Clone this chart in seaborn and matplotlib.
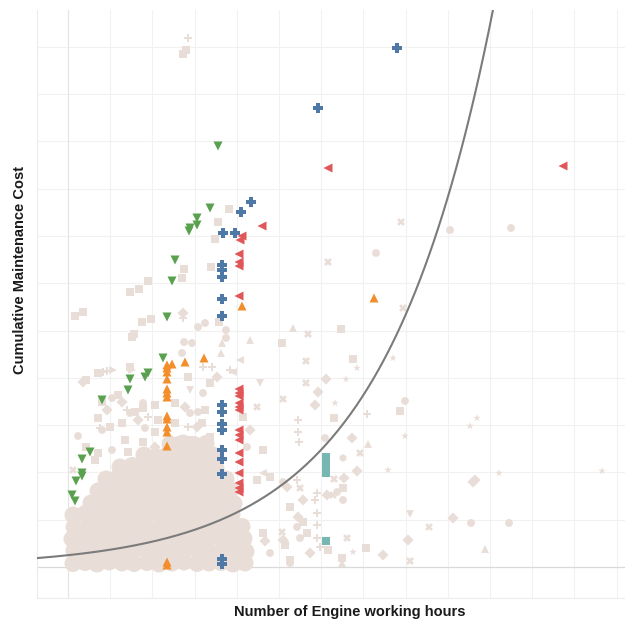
import numpy as np
import pandas as pd
import matplotlib
matplotlib.use("Agg")
import matplotlib.pyplot as plt
from matplotlib.ticker import MultipleLocator
import seaborn as sns

# ---------------------------------------------------------------------------
# Engines: working hours vs cumulative maintenance cost
# ---------------------------------------------------------------------------

# Highlighted engines (hours, cost)
blue_hours = [3290, 2500, 1830, 1730, 1670, 1550,
              1540, 1540, 1540, 1540, 1540, 1540, 1540, 1540, 1540,
              1540, 1540, 1540, 1540, 1540]
blue_cost = [51900, 45900, 36500, 35500, 33400, 33400,
             30200, 29700, 29000, 26800, 25100, 16200, 15500, 14300, 13700,
             11700, 10800, 9300, 800, 300]

red_hours = [4950, 2600, 1940, 1740, 1720,
             1710, 1710, 1710, 1710, 1710, 1710, 1710, 1710, 1710, 1710,
             1710, 1710, 1710, 1710, 1710, 1710, 1710, 1710, 1710]
red_cost = [40100, 39900, 34100, 33100, 32700,
            31300, 30500, 30100, 27100, 17800, 17400, 17100, 16400, 16000, 15700,
            13700, 13200, 12700, 11400, 10500, 9400, 8400, 7900, 7500]

orange_hours = [3060, 1740, 1360, 1170, 1040,
                990, 990, 990, 990, 990, 990, 990, 990, 990, 990,
                990, 990, 990, 990]
orange_cost = [26900, 26100, 20900, 20500, 20300,
               20200, 19900, 19500, 18800, 17800, 17400, 17000, 15100, 14800, 14000,
               13500, 12100, 500, 200]

green_hours = [1500, 1420, 1290, 1290, 1220, 1210, 1070, 1040, 990, 950,
               800, 770, 620, 600, 340, 220, 140, 140, 140, 80, 40, 70]
green_cost = [42100, 35900, 34900, 34200, 33900, 33600, 30700, 28600, 25000, 20900,
              19400, 19000, 18800, 17700, 16700, 11500, 10800, 9400, 9100, 8600, 7200, 6600]

teal_hours = [2580, 2580, 2580, 2580, 2580, 2580]
teal_cost = [11000, 10600, 10200, 9800, 9400, 2600]

# Remaining engines, grouped by mark shape (hours, cost)
other_square = [(1180, 51700), (1150, 51300), (1610, 35800), (1500, 34500), (1470, 32800),
                (1430, 30000), (1160, 29800), (1140, 28900), (800, 28600), (710, 27800),
                (620, 27500), (150, 25500), (70, 25100), (830, 24800), (740, 24500),
                (660, 23300), (640, 23000), (1510, 24500), (2140, 22400), (2730, 23800),
                (2850, 20800), (2660, 14900), (3320, 15600), (2750, 7900), (2980, 1900),
                (2740, 900), (620, 20000), (300, 14900), (420, 14000), (750, 15900),
                (750, 12500), (270, 10700), (1420, 18400), (1370, 15700), (1420, 13000),
                (1750, 15000), (1950, 11700), (2020, 9000), (2220, 6000), (2390, 3400),
                (1950, 3400), (2220, 700), (1890, 8700), (2350, 4500), (2170, 2200),
                (2600, 1700), (180, 18700), (300, 19400), (340, 16500), (500, 17200),
                (670, 15500), (870, 16200), (540, 14400), (900, 14700), (870, 13500),
                (570, 12700), (1200, 19000), (1070, 16400), (1070, 14400), (1340, 14400),
                (1240, 12700), (1140, 11700), (300, 11400), (600, 11500), (180, 12000)]
other_circle = [(3820, 33700), (4430, 33900), (3080, 31400), (1300, 24000), (1370, 24400),
                (1580, 23700), (1580, 22900), (1160, 22500), (650, 23200), (3370, 16600),
                (2750, 6700), (4030, 4400), (4410, 4400), (2570, 12900), (620, 15400),
                (1350, 17400), (1220, 15400), (1790, 12000), (2290, 4000), (2020, 1400),
                (2150, 8500), (2690, 7500), (2320, 2900), (2220, 400), (440, 16900),
                (750, 16400), (340, 13700), (770, 13900), (1140, 21400), (1240, 22400),
                (1300, 15500), (1100, 12700), (440, 11700), (100, 13100)]
other_diamond = [(1150, 25400), (2840, 12900), (2890, 9600), (2760, 8900), (4070, 8700),
                 (4050, 8500), (3850, 4900), (3400, 2700), (3150, 1200), (2580, 18800),
                 (2500, 17500), (2470, 16200), (150, 18500), (390, 15700), (1490, 19000),
                 (1290, 14000), (1820, 13700), (2190, 8000), (2350, 6700), (2150, 2700),
                 (2420, 1400), (2590, 7200), (2300, 5000), (1970, 2600), (540, 16500),
                 (700, 14700), (1170, 16000), (1340, 12000), (870, 12000)]
other_plus = [(1200, 52900), (1150, 24900), (2990, 15300), (2300, 14700), (2300, 13500),
              (2310, 12500), (350, 19500), (320, 13900), (1620, 19700), (1350, 20000),
              (1440, 20000), (2290, 8700), (2490, 7400), (2520, 2000), (2470, 6700),
              (2490, 5400), (2490, 4200), (2490, 2900), (390, 19600), (590, 15700),
              (800, 15000), (1200, 14000)]
other_cross = [(2600, 30500), (3330, 34500), (2400, 23300), (3350, 25900), (2920, 11400),
               (2660, 8800), (2650, 7200), (3610, 4000), (3420, 600), (2380, 20600),
               (2380, 18400), (2150, 16800), (50, 9700), (1890, 16000), (2320, 7900),
               (2140, 3500), (2790, 2900)]
other_up = [(1540, 22400), (1820, 22700), (2250, 23900), (3000, 12300), (4170, 1800),
            (2740, 400), (1530, 21400)]
other_down = [(3420, 5300), (1920, 18400), (1220, 17700)]
other_left = [(1720, 20700), (1650, 19500), (1950, 9400)]
other_right = [(450, 19700), (640, 19700)]
other_star = [(2890, 19900), (3250, 20900), (2780, 18800), (2670, 16400), (3370, 13100),
              (4020, 14100), (4090, 14900), (3200, 9700), (4310, 9400), (5340, 9600),
              (2850, 1500)]
other_hex = [(2750, 10900)]

# The crowded bulk of low-hour, low-cost engines
bulk = [
    (50, 350), (170, 450), (290, 300), (410, 500), (540, 400), (660, 350), (790, 450),
    (910, 300), (1040, 400), (1160, 500), (1290, 350), (1410, 400), (1530, 450),
    (1650, 300), (1770, 400),
    (60, 1650), (180, 1500), (300, 1700), (420, 1550), (550, 1600), (670, 1750),
    (800, 1500), (920, 1650), (1050, 1550), (1170, 1700), (1300, 1600), (1420, 1500),
    (1540, 1650), (1660, 1700), (1780, 1550),
    (40, 2800), (160, 2950), (280, 2700), (400, 2850), (530, 2750), (650, 2900),
    (780, 2800), (900, 2700), (1030, 2900), (1150, 2850), (1280, 2750), (1400, 2800),
    (1520, 2950), (1640, 2700), (1760, 2850),
    (60, 4000), (180, 3900), (300, 4100), (430, 4050), (550, 3950), (670, 4100),
    (800, 4000), (920, 3900), (1040, 4050), (1170, 4100), (1290, 3950), (1410, 4000),
    (1530, 4100), (1650, 3900), (1740, 4050),
    (50, 5200), (170, 5350), (290, 5100), (410, 5250), (540, 5300), (660, 5150),
    (780, 5200), (910, 5350), (1030, 5100), (1150, 5250), (1280, 5200), (1400, 5300),
    (1520, 5150), (1640, 5250),
    (230, 6400), (320, 6550), (440, 6300), (560, 6450), (690, 6500), (810, 6350),
    (930, 6400), (1060, 6550), (1180, 6300), (1300, 6450), (1420, 6400), (1540, 6500),
    (1660, 6350),
    (300, 7600), (410, 7750), (530, 7500), (650, 7650), (770, 7700), (900, 7550),
    (1020, 7600), (1140, 7750), (1260, 7500), (1380, 7650), (1500, 7600), (1620, 7700),
    (380, 8800), (500, 8950), (620, 8700), (740, 8850), (860, 8900), (980, 8750),
    (1100, 8800), (1220, 8950), (1340, 8700), (1460, 8850), (1580, 8800),
    (520, 10000), (640, 10150), (760, 9900), (880, 10050), (1000, 10100), (1120, 9950),
    (1240, 10000), (1360, 10150), (1480, 9900),
    (760, 11200), (880, 11050), (1000, 11300), (1120, 11150), (1240, 11250),
    (1360, 11100), (1450, 11200),
    (1020, 12300), (1150, 12400), (1270, 12200), (1380, 12350),
]

# Exponential trend: cost = a * exp(b * hours)
trend_a = 1180.0
trend_b = 0.000907

# ---------------------------------------------------------------------------
highlight = pd.concat([
    pd.DataFrame({"hours": blue_hours, "cost": blue_cost, "group": "A"}),
    pd.DataFrame({"hours": red_hours, "cost": red_cost, "group": "B"}),
    pd.DataFrame({"hours": orange_hours, "cost": orange_cost, "group": "C"}),
    pd.DataFrame({"hours": green_hours, "cost": green_cost, "group": "D"}),
    pd.DataFrame({"hours": teal_hours, "cost": teal_cost, "group": "E"}),
], ignore_index=True)
palette = {"A": "#4e79a7", "B": "#e15759", "C": "#f28e2b", "D": "#59a14f", "E": "#76b7b2"}
hl_markers = {"A": "P", "B": "<", "C": "^", "D": "v", "E": "s"}
hl_sizes = {"A": 62, "B": 42, "C": 42, "D": 42, "E": 40}

shape_groups = {"s": other_square, "o": other_circle, "D": other_diamond, "P": other_plus,
                "X": other_cross, "^": other_up, "v": other_down, "<": other_left,
                ">": other_right, "*": other_star, "h": other_hex}
others = pd.concat([pd.DataFrame(pts, columns=["hours", "cost"]).assign(shape=m)
                    for m, pts in shape_groups.items()], ignore_index=True)
bulk_df = pd.DataFrame(bulk, columns=["hours", "cost"])

sns.set_style("white")
plt.rcParams["font.family"] = ["Liberation Sans", "DejaVu Sans"]

fig = plt.figure(figsize=(6.25, 6.26), dpi=100)
ax = fig.add_axes([37 / 625, 28 / 626, 588 / 625, 588 / 626])

beige = "#e9ddd8"

sns.scatterplot(data=bulk_df, x="hours", y="cost", marker="o", s=150, color=beige,
                linewidth=0, edgecolor="none", legend=False, ax=ax, zorder=2)
sns.scatterplot(data=others, x="hours", y="cost", style="shape",
                markers={m: m for m in shape_groups}, s=32, color=beige,
                linewidth=0, edgecolor="none", legend=False, ax=ax, zorder=2)

x_max = np.log(55700 / trend_a) / trend_b
trend_x = np.linspace(-310, x_max, 300)
sns.lineplot(x=trend_x, y=trend_a * np.exp(trend_b * trend_x), color="#7b7b7b",
             linewidth=1.5, ax=ax, zorder=3)

sns.scatterplot(data=highlight, x="hours", y="cost", hue="group", style="group",
                size="group", sizes=hl_sizes, palette=palette, markers=hl_markers,
                linewidth=0, edgecolor="none", legend=False, ax=ax, zorder=4)

ax.set_xlim(-310, 5570)
ax.set_ylim(-3100, 55700)
ax.xaxis.set_major_locator(MultipleLocator(422))
ax.yaxis.set_major_locator(MultipleLocator(4730))
ax.grid(True, color="#f1f1f1", linewidth=0.8)
ax.set_axisbelow(True)
ax.axhline(0, color="#d9d9d9", linewidth=0.9, zorder=1)
ax.axvline(0, color="#e4e4e4", linewidth=0.8, zorder=1)
ax.tick_params(length=0, labelbottom=False, labelleft=False)
ax.set_xlabel("")
ax.set_ylabel("")
for side in ("top", "right"):
    ax.spines[side].set_visible(False)
for side in ("left", "bottom"):
    ax.spines[side].set_color("#ececec")
    ax.spines[side].set_linewidth(0.8)

fig.text(350 / 625, 1 - 612 / 626, "Number of Engine working hours",
         ha="center", va="center", fontsize=10.5, fontweight="bold", color="#1a1a1a")
fig.text(20 / 625, 1 - 270 / 626, "Cumulative Maintenance Cost", rotation=90,
         ha="center", va="center", fontsize=10.5, fontweight="bold", color="#1a1a1a")

fig.savefig("out.png", dpi=100)
